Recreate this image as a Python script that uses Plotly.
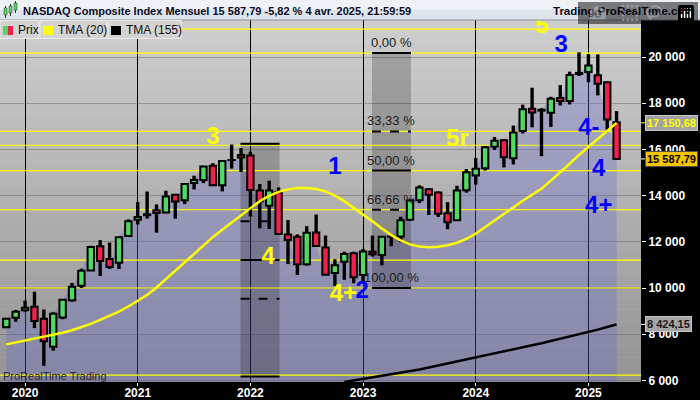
import plotly.graph_objects as go

# ---------------- data ----------------
months = ["2019-11", "2019-12",
          "2020-01", "2020-02", "2020-03", "2020-04", "2020-05", "2020-06",
          "2020-07", "2020-08", "2020-09", "2020-10", "2020-11", "2020-12",
          "2021-01", "2021-02", "2021-03", "2021-04", "2021-05", "2021-06",
          "2021-07", "2021-08", "2021-09", "2021-10", "2021-11", "2021-12",
          "2022-01", "2022-02", "2022-03", "2022-04", "2022-05", "2022-06",
          "2022-07", "2022-08", "2022-09", "2022-10", "2022-11", "2022-12",
          "2023-01", "2023-02", "2023-03", "2023-04", "2023-05", "2023-06",
          "2023-07", "2023-08", "2023-09", "2023-10", "2023-11", "2023-12",
          "2024-01", "2024-02", "2024-03", "2024-04", "2024-05", "2024-06",
          "2024-07", "2024-08", "2024-09", "2024-10", "2024-11", "2024-12",
          "2025-01", "2025-02", "2025-03", "2025-04"]

opens = [8305, 8708,
         9039, 9190, 8667, 7459, 8727, 9471, 10094, 10761, 11803, 11252, 11096, 12254,
         12958, 13152, 13370, 13274, 14036, 13794, 14549, 14677, 15289, 14443, 15540, 15755,
         15733, 14217, 13562, 14148, 12321, 12221, 11024, 12403, 11749, 10650, 11140, 11500,
         10562, 11573, 11431, 12226, 12228, 12950, 13795, 14280, 14130, 13241, 12928, 14235,
         14873, 15182, 16119, 16396, 15620, 16800, 17758, 17680, 17586, 18230, 18100, 19263,
         19346, 19215, 18904, 17180]
highs = [8705, 9052,
         9451, 9838, 9070, 8957, 9523, 10221, 10839, 11829, 12074, 11965, 12228, 12973,
         13728, 14175, 13620, 14211, 14073, 14535, 14863, 15288, 15403, 15498, 16212, 16057,
         15901, 14500, 14646, 14357, 12943, 12320, 12681, 13182, 12270, 11245, 11572, 11571,
         11691, 12269, 12251, 12296, 13084, 13830, 14446, 14320, 14180, 13715, 14427, 15150,
         15630, 16134, 16539, 16449, 17032, 17936, 18671, 17785, 18280, 18785, 19366, 20205,
         20118, 20111, 18933, 17660]
lows = [8295, 8537,
        8977, 8264, 6631, 7288, 8650, 9403, 10004, 10749, 10519, 10822, 10822, 12205,
        12741, 13003, 12397, 13236, 13002, 13634, 14268, 14541, 14430, 14182, 15170, 15024,
        13095, 12588, 12555, 12368, 11035, 10565, 10969, 11858, 10646, 10089, 10353, 10207,
        10265, 11361, 10983, 11810, 11976, 12900, 13676, 13161, 13078, 12544, 12925, 14128,
        14477, 15084, 15979, 15223, 15348, 16690, 16957, 15708, 16973, 17900, 17946, 19180,
        18907, 18339, 16854, 15540]
closes = [8665, 8972,
          9150, 8567, 7700, 8889, 9490, 10058, 10745, 11775, 11168, 10911, 12198, 12888,
          13070, 13192, 13247, 13962, 13748, 14504, 14673, 15259, 14448, 15498, 15538, 15645,
          14240, 13751, 14221, 12335, 12081, 11029, 12391, 11816, 10576, 10988, 11468, 10466,
          11585, 11456, 12222, 12227, 12935, 13788, 14346, 14035, 13219, 12851, 14226, 15011,
          15164, 16092, 16379, 15658, 16735, 17733, 17599, 17714, 18189, 18095, 19218, 19311,
          19627, 18847, 17299, 15587.79]

# TMA (20), one value per month
tma20 = [7560, 7640, 7720, 7800, 7880, 7970, 8060, 8170, 8300, 8450, 8620, 8800,
         8980, 9200, 9440, 9700, 10020, 10380, 10760, 11140, 11500, 11860, 12200, 12520,
         12830, 13140, 13460, 13760, 13990, 14160, 14270, 14330, 14330, 14290, 14180, 14000,
         13760, 13480, 13190, 12890, 12580, 12290, 12060, 11890, 11800, 11765, 11790, 11850,
         11960, 12130, 12350, 12620, 12920, 13200, 13500, 13780, 14040, 14300, 14650, 15000,
         15380, 15760, 16110, 16450, 16800, 17150.68]

# TMA (155), visible from Nov 2022 on
tma155_start = "2022-11"
tma155 = [5930, 5995, 6060, 6125, 6190, 6250, 6310, 6390, 6470, 6560, 6650, 6740,
          6830, 6920, 7005, 7090, 7175, 7260, 7345, 7430, 7520, 7605, 7700, 7795,
          7890, 7990, 8090, 8200, 8310, 8424.15]

years = ["2020", "2021", "2022", "2023", "2024", "2025"]
y_ticks = [6000, 8000, 10000, 12000, 14000, 16000, 18000, 20000]

# drawn horizontal yellow levels
yellow_levels = [21210, 20170, 16780, 16180, 15085, 13390, 11210, 10000, 6230]

# Fibonacci retracement tools: (first month, last month, 0% level, 100% level, show labels)
fib_tools = [("2021-12", "2022-04", 16250, 6170, False),
             ("2023-02", "2023-06", 20170, 10000, True)]
fib_ratios = [0, 1 / 3, 0.5, 2 / 3, 1]
fib_texts = ["0,00 %", "33,33 %", "50,00 %", "66,66 %", "100,00 %"]
fib_dash = ["solid", "dash", "solid", "dash", "solid"]

# Elliott wave labels: text, colour, month position, price
wave_text = ["3", "1", "4", "4+", "2", "5r", "5", "3", "4-", "4", "4+"]
wave_color = ["#ffff00", "#0000ff", "#ffff00", "#ffff00", "#0000ff", "#ffff00",
              "#ffff00", "#0000ff", "#0000ff", "#0000ff", "#0000ff"]
wave_pos = [22.0, 35.0, 27.9, 35.9, 37.9, 48.05, 57.05, 59.1, 62.05, 63.1, 63.1]
wave_price = [16494, 15195, 11299, 9719, 9840, 16407, 21300, 20498, 16883, 15108, 13506]

title_text = "NASDAQ Composite Index Mensuel 15 587,79 -5,82 % 4 avr. 2025, 21:59:59"

# ---------------- figure ----------------
xi = list(range(len(months)))
XR = [-0.67, 67.6]
YR = [5931, 21602]
FONT = "Liberation Sans, Arial, sans-serif"
UP, DOWN = "#4ddb62", "#f2204f"

W_PLOT, TOP, BOTTOM = 641, 20, 382


def px(x):
    return x / W_PLOT


def py(y):
    return (BOTTOM - y) / (BOTTOM - TOP)


def fmt(v):
    return f"{v:,.2f}".replace(",", " ").replace(".", ",")


fig = go.Figure()
shapes = []

# background gradient
n_bands = 30
for k in range(n_bands):
    t = k / (n_bands - 1)
    g = int(round(206 - (206 - 148) * t))
    shapes.append(dict(type="rect", xref="paper", yref="paper", x0=0, x1=1,
                       y0=1 - (k + 1) / n_bands, y1=1 - k / n_bands,
                       fillcolor=f"rgb({g},{g},{g})", line=dict(width=0), layer="below"))

# area under the price
path = f"M {xi[0]},0 " + " ".join(f"L {x},{c}" for x, c in zip(xi, closes)) + f" L {xi[-1]},0 Z"
shapes.append(dict(type="path", xref="x", yref="y", path=path,
                   fillcolor="rgba(100,100,205,0.30)", line=dict(width=0), layer="between"))

# fib boxes
for m0, m1, top, bot, show in fib_tools:
    a, b = months.index(m0), months.index(m1)
    shapes.append(dict(type="rect", xref="x", yref="y", x0=a - 0.05, x1=b + 0.1, y0=bot, y1=top,
                       fillcolor="rgba(0,0,0,0.2)", line=dict(width=0), layer="between"))

# yellow levels
for lv in yellow_levels:
    shapes.append(dict(type="line", xref="x", yref="y", x0=XR[0], x1=XR[1], y0=lv, y1=lv,
                       line=dict(color="#ffff00", width=1.2), layer="between"))

annotations = []
for m0, m1, top, bot, show in fib_tools:
    a, b = months.index(m0), months.index(m1)
    for r, txt, d in zip(fib_ratios, fib_texts, fib_dash):
        lv = top - r * (top - bot)
        shapes.append(dict(type="line", xref="x", yref="y", x0=a - 0.05, x1=b + 0.1, y0=lv, y1=lv,
                           line=dict(color="black", width=2, dash=d), layer="between"))
        if show:
            annotations.append(dict(x=(a + b) / 2, y=lv, xref="x", yref="y", text=txt,
                                    showarrow=False, yanchor="bottom", yshift=1,
                                    font=dict(family=FONT, size=13, color="#1e1e1e")))

# candles: wicks then bodies (bar traces sit under the line traces)
fig.add_trace(go.Bar(x=xi, y=[h - l for h, l in zip(highs, lows)], base=lows, width=0.36,
                     marker=dict(color="black", line=dict(width=0)),
                     hoverinfo="skip", showlegend=False))
fig.add_trace(go.Bar(x=xi, y=[abs(c - o) for o, c in zip(opens, closes)],
                     base=[min(o, c) for o, c in zip(opens, closes)], width=0.68,
                     marker=dict(color=[UP if c >= o else DOWN for o, c in zip(opens, closes)],
                                 line=dict(color="black", width=2)),
                     hoverinfo="skip", showlegend=False))

# moving averages
fig.add_trace(go.Scatter(x=xi, y=tma20, mode="lines", line=dict(color="#ffff00", width=2.5),
                         hoverinfo="skip", showlegend=False))
s155 = months.index(tma155_start)
fig.add_trace(go.Scatter(x=xi[s155:s155 + len(tma155)], y=tma155, mode="lines",
                         line=dict(color="black", width=2.5), hoverinfo="skip", showlegend=False))

# wave labels (clipped to plot area)
fig.add_trace(go.Scatter(x=wave_pos, y=wave_price, mode="text", text=wave_text,
                         textfont=dict(family=FONT, size=24, color=wave_color, weight="bold"),
                         hoverinfo="skip", showlegend=False, cliponaxis=True))

# ---------- header / legend decorations ----------
shapes.append(dict(type="rect", xref="paper", yref="paper", x0=0, x1=px(700), y0=py(10), y1=py(0),
                   fillcolor="#eef2f6", line=dict(width=0), layer="above"))
shapes.append(dict(type="rect", xref="paper", yref="paper", x0=0, x1=px(700), y0=py(20), y1=py(10),
                   fillcolor="#dde4eb", line=dict(width=0), layer="above"))
shapes.append(dict(type="line", xref="paper", yref="paper", x0=0, x1=px(700), y0=py(20), y1=py(20),
                   line=dict(color="#8a9098", width=1), layer="above"))
# header icon
for (x0, x1, y0, y1, col) in [(4, 7, 8, 15, UP), (9, 12, 6, 13, UP), (14, 17, 3, 10, UP)]:
    shapes.append(dict(type="line", xref="paper", yref="paper", x0=px((x0 + x1) / 2), x1=px((x0 + x1) / 2),
                       y0=py(y1 + 3), y1=py(y0 - 2), line=dict(color="#303030", width=1), layer="above"))
    shapes.append(dict(type="rect", xref="paper", yref="paper", x0=px(x0), x1=px(x1), y0=py(y1), y1=py(y0),
                       fillcolor=col, line=dict(color="#303030", width=0.5), layer="above"))

# legend boxes
for (x0, x1) in [(0, 39), (40, 107), (108, 181)]:
    shapes.append(dict(type="rect", xref="paper", yref="paper", x0=px(x0), x1=px(x1), y0=py(38.5), y1=py(20.5),
                       fillcolor="#d3d3d3", line=dict(color="#ececec", width=1), layer="above"))
shapes.append(dict(type="rect", xref="paper", yref="paper", x0=px(3), x1=px(8), y0=py(35), y1=py(26),
                   fillcolor=UP, line=dict(width=0), layer="above"))
shapes.append(dict(type="rect", xref="paper", yref="paper", x0=px(8), x1=px(13), y0=py(35), y1=py(26),
                   fillcolor=DOWN, line=dict(width=0), layer="above"))
shapes.append(dict(type="rect", xref="paper", yref="paper", x0=px(43), x1=px(53), y0=py(35), y1=py(26),
                   fillcolor="#ffff00", line=dict(width=0), layer="above"))
shapes.append(dict(type="rect", xref="paper", yref="paper", x0=px(111), x1=px(121), y0=py(35), y1=py(26),
                   fillcolor="#000000", line=dict(width=0), layer="above"))

for txt, x in [("Prix", 16), ("TMA (20)", 56), ("TMA (155)", 124)]:
    annotations.append(dict(x=px(x), y=py(30), xref="paper", yref="paper", text=txt, showarrow=False,
                            xanchor="left", yanchor="middle",
                            font=dict(family=FONT, size=12, color="#101010")))

annotations.append(dict(x=px(21), y=py(11), xref="paper", yref="paper", text=title_text, showarrow=False,
                        xanchor="left", yanchor="middle",
                        font=dict(family=FONT, size=11, color="#0c0c28", weight="bold")))
annotations.append(dict(x=px(697), y=py(11), xref="paper", yref="paper", text="Trading.ProRealTime.com",
                        showarrow=False, xanchor="right", yanchor="middle",
                        font=dict(family=FONT, size=11.5, color="#0c0c28", weight="bold")))
annotations.append(dict(x=px(1), y=py(376), xref="paper", yref="paper", text="ProRealTime Trading",
                        showarrow=False, xanchor="left", yanchor="middle",
                        font=dict(family=FONT, size=11, color="#262626")))

# right-hand value labels
for val, bg, fg, tick in [(tma20[-1], "#a2a2a2", "#ffff00", "#ffff00"),
                          (closes[-1], "#f5c400", "#000000", "#ffffff"),
                          (tma155[-1], "#a6a6a6", "#1a1a1a", "#ffffff")]:
    shapes.append(dict(type="line", xref="paper", yref="y", x0=1, x1=px(645), y0=val, y1=val,
                       line=dict(color=tick, width=1), layer="above"))
    annotations.append(dict(x=1, y=val, xref="paper", yref="y", text=fmt(val), showarrow=False,
                            xanchor="left", yanchor="middle", xshift=4,
                            bgcolor=bg, bordercolor="#505050" if bg == "#f5c400" else "#c8c8c8",
                            borderwidth=1, borderpad=1,
                            font=dict(family=FONT, size=11, color=fg, weight="bold")))

tickvals_x = [months.index(f"{y}-01") for y in years]

fig.update_layout(
    width=700, height=400,
    margin=dict(l=0, r=700 - W_PLOT, t=TOP, b=400 - BOTTOM, pad=0),
    paper_bgcolor="black", plot_bgcolor="#b4b4b4",
    separators=", ",
    barmode="overlay",
    showlegend=False,
    shapes=shapes, annotations=annotations,
    xaxis=dict(range=XR, tickvals=tickvals_x, ticktext=years,
               showgrid=True, gridcolor="black", gridwidth=1, zeroline=False,
               ticks="outside", ticklen=3, tickcolor="white", ticklabelstandoff=-3,
               tickfont=dict(family=FONT, size=12, color="white", weight="bold"),
               automargin=False, fixedrange=True),
    yaxis=dict(range=YR, side="right", tickvals=y_ticks, tickformat=",d",
               showgrid=True, gridcolor="rgba(95,95,95,0.45)", gridwidth=1, zeroline=False,
               ticks="outside", ticklen=4, tickcolor="white",
               tickfont=dict(family=FONT, size=12, color="white", weight="bold"),
               automargin=False, fixedrange=True),
)

fig.write_html("out.html", post_script="document.body.style.margin='0';document.body.style.overflow='hidden';")
